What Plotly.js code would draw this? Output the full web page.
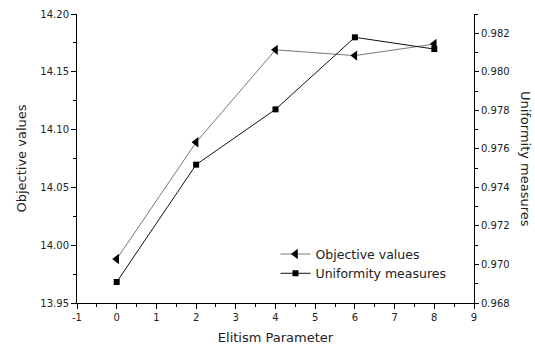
<!DOCTYPE html>
<html><head><meta charset="utf-8">
<script src="https://cdn.plot.ly/plotly-3.0.1.min.js"></script>
<style>body{margin:0;padding:0;background:#fff}#chart{width:535px;height:352px}</style>
</head><body><div id="chart"></div>
<script>
const elitism = [0, 2, 4, 6, 8];
const objectiveValues = [13.988, 14.089, 14.169, 14.164, 14.174];
const uniformityMeasures = [0.96909, 0.97518, 0.97805, 0.98179, 0.98118];
const xTicks = [-1, 0, 1, 2, 3, 4, 5, 6, 7, 8, 9];
const xTickLabels = ['-1', '0', '1', '2', '3', '4', '5', '6', '7', '8', '9'];
const leftTicks = [13.95, 14.00, 14.05, 14.10, 14.15, 14.20];
const rightTicks = [0.968, 0.970, 0.972, 0.974, 0.976, 0.978, 0.980, 0.982];

const FONT = 'DejaVu Sans, Verdana, sans-serif';
const traces = [
  {x: elitism, y: objectiveValues, name: 'Objective values', type: 'scatter', mode: 'lines+markers',
   line: {color: '#555', width: 0.8}, marker: {symbol: 'triangle-left', size: 9, color: '#000'}, yaxis: 'y'},
  {x: elitism, y: uniformityMeasures, name: 'Uniformity measures', type: 'scatter', mode: 'lines+markers',
   line: {color: '#111', width: 1}, marker: {symbol: 'square', size: 6, color: '#000'}, yaxis: 'y2'}
];
const axBase = {showgrid: false, zeroline: false, showline: true, linecolor: '#000', linewidth: 1,
  tickcolor: '#000', tickwidth: 1, ticklen: 5, tickfont: {family: FONT, size: 10, color: '#222'}};
const layout = {
  width: 535, height: 352, margin: {l: 77, r: 61, t: 14, b: 49},
  paper_bgcolor: '#fff', plot_bgcolor: '#fff', showlegend: true,
  font: {family: FONT, color: '#222'},
  xaxis: Object.assign({}, axBase, {range: [-1, 9], tickvals: xTicks, ticktext: xTickLabels, ticks: 'outside',
    minor: {dtick: 0.5, ticks: 'outside', ticklen: 3, tickcolor: '#000', showgrid: false},
    title: {text: 'Elitism Parameter', font: {family: FONT, size: 13, color: '#222'}, standoff: 10}}),
  xaxis2: Object.assign({}, axBase, {range: [-1, 9], overlaying: 'x', side: 'top', tickvals: xTicks,
    ticks: 'inside', showticklabels: false,
    minor: {dtick: 0.5, ticks: 'inside', ticklen: 3, tickcolor: '#000', showgrid: false}}),
  yaxis: Object.assign({}, axBase, {range: [13.95, 14.20], tickvals: leftTicks, ticktext: leftTicks.map(v => v.toFixed(2)),
    ticks: 'outside', minor: {dtick: 0.025, ticks: 'outside', ticklen: 3, tickcolor: '#000', showgrid: false},
    title: {text: 'Objective values', font: {family: FONT, size: 13, color: '#222'}, standoff: 10}}),
  yaxis2: Object.assign({}, axBase, {range: [0.968, 0.983], overlaying: 'y', side: 'right', tickvals: rightTicks,
    ticktext: rightTicks.map(v => v.toFixed(3)), ticks: 'outside', ticklen: 4,
    minor: {dtick: 0.001, ticks: 'outside', ticklen: 3, tickcolor: '#000', showgrid: false}}),
  legend: {x: 0.50, y: 0.22, xanchor: 'left', yanchor: 'top', bgcolor: 'rgba(0,0,0,0)',
    font: {family: FONT, size: 12.5, color: '#222'}, tracegroupgap: 0, itemwidth: 30},
  annotations: [{text: 'Uniformity measures', textangle: 90, xref: 'paper', yref: 'paper',
    x: 1.13, y: 0.5, xanchor: 'center', yanchor: 'middle', showarrow: false,
    font: {family: FONT, size: 13, color: '#222'}}]
};
Plotly.newPlot('chart', traces, layout, {displayModeBar: false, staticPlot: true});
</script></body></html>
